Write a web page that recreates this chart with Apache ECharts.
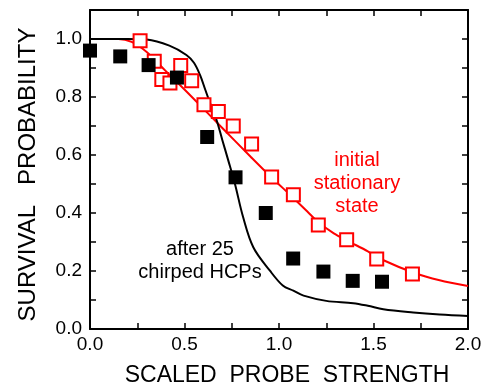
<!DOCTYPE html>
<html>
<head>
<meta charset="utf-8">
<script src="https://cdn.jsdelivr.net/npm/echarts@6/dist/echarts.min.js"></script>
<style>
  html, body { margin: 0; padding: 0; background: #fff; }
  #chart { width: 482px; height: 387px; }
</style>
</head>
<body>
<div id="chart"></div>
<script>
const chirpedX = [0.0, 0.16, 0.31, 0.46, 0.62, 0.77, 0.93, 1.075, 1.235, 1.39, 1.545];
const chirpedY = [0.96, 0.94, 0.91, 0.867, 0.662, 0.523, 0.40, 0.243, 0.198, 0.166, 0.163];

const initialX = [0.265, 0.34, 0.38, 0.423, 0.48, 0.538, 0.603, 0.679, 0.758, 0.855, 0.961, 1.076, 1.208, 1.358, 1.517, 1.706];
const initialY = [0.994, 0.923, 0.86, 0.848, 0.909, 0.856, 0.773, 0.75, 0.70, 0.638, 0.524, 0.463, 0.359, 0.308, 0.241, 0.19];

// Theory curves
const chirpedCurveX = [0, 0.2, 0.3, 0.42, 0.51, 0.55, 0.582, 0.61, 0.64, 0.67, 0.70, 0.73, 0.767, 0.81, 0.864, 0.952, 1.02, 1.076, 1.13, 1.25, 1.393, 1.47, 1.552, 1.71, 1.85, 2.0];
const chirpedCurveY = [1.0, 1.0, 0.998, 0.977, 0.945, 0.918, 0.876, 0.825, 0.77, 0.72, 0.652, 0.585, 0.50, 0.386, 0.282, 0.201, 0.15, 0.132, 0.115, 0.097, 0.089, 0.08, 0.068, 0.057, 0.05, 0.045];

const initialCurveX = [0, 0.15, 0.22, 0.3, 0.4, 0.53, 0.7, 0.85, 0.955, 1.076, 1.15, 1.208, 1.29, 1.36, 1.47, 1.55, 1.71, 1.85, 2.0];
const initialCurveY = [1.0, 1.0, 0.99, 0.955, 0.89, 0.806, 0.693, 0.594, 0.526, 0.452, 0.405, 0.368, 0.33, 0.305, 0.268, 0.238, 0.195, 0.168, 0.148];

const xTicks = { min: 0, max: 2, step: 0.25 };
const yTicks = { min: 0, max: 1.1, step: 0.1 };

const RED = "#ff0000";
const FONT = "Liberation Sans, Arial, sans-serif";

const zip = (xs, ys) => xs.map((x, i) => [x, ys[i]]);

// labels only on every 0.5 (x) / 0.2 (y)
const xLabel = (v) => (Math.round(v * 100) % 50 === 0 ? v.toFixed(1) : "");
const yLabel = (v) => (Math.round(v * 10) % 2 === 0 && v <= 1.0001 ? v.toFixed(1) : "");

const axisLine = { show: true, onZero: false, lineStyle: { color: "#000", width: 2 } };
const axisTick = { show: true, inside: true, length: 6, lineStyle: { color: "#000", width: 1.5 } };

const chart = echarts.init(document.getElementById("chart"), null, { renderer: "canvas" });

chart.setOption({
  animation: false,
  // fixed plot box; don't let v6 shrink it to fit the axis names
  grid: { left: 90, right: 14, top: 10, bottom: 58, containLabel: false, outerBoundsMode: "none" },
  xAxis: [
    {
      type: "value", min: xTicks.min, max: xTicks.max, interval: xTicks.step,
      axisLine, axisTick, splitLine: { show: false },
      axisLabel: { formatter: xLabel, color: "#000", fontSize: 19, fontFamily: FONT, margin: 6, showMaxLabel: true },
      name: "SCALED  PROBE  STRENGTH",
      nameLocation: "middle", nameGap: 35,
      nameTextStyle: { color: "#000", fontSize: 23, fontFamily: FONT, padding: [0, 0, 0, 16] },
    },
    {
      type: "value", position: "top", min: xTicks.min, max: xTicks.max, interval: xTicks.step,
      axisLine, axisTick, axisLabel: { show: false }, splitLine: { show: false },
    },
  ],
  yAxis: [
    {
      type: "value", min: yTicks.min, max: yTicks.max, interval: yTicks.step,
      axisLine, axisTick, splitLine: { show: false },
      axisLabel: { formatter: yLabel, color: "#000", fontSize: 19, fontFamily: FONT, margin: 8, showMaxLabel: false },
      name: "SURVIVAL   PROBABILITY",
      nameLocation: "middle", nameGap: 50,
      nameTextStyle: { color: "#000", fontSize: 24, fontFamily: FONT, padding: [0, 10, 0, 0] },
    },
    {
      type: "value", position: "right", min: yTicks.min, max: yTicks.max, interval: yTicks.step,
      axisLine, axisTick, axisLabel: { show: false }, splitLine: { show: false },
    },
  ],
  series: [
    {
      name: "initial curve", type: "line", smooth: 0.3, symbol: "none", z: 2,
      lineStyle: { color: RED, width: 2 },
      data: zip(initialCurveX, initialCurveY),
    },
    {
      name: "chirped curve", type: "line", smooth: 0.35, symbol: "none", z: 2,
      lineStyle: { color: "#000", width: 2 },
      data: zip(chirpedCurveX, chirpedCurveY),
    },
    {
      name: "initial stationary state", type: "scatter", symbol: "rect", symbolSize: 13, z: 3,
      itemStyle: { color: "#fff", borderColor: RED, borderWidth: 2, opacity: 1 },
      data: zip(initialX, initialY),
    },
    {
      name: "after 25 chirped HCPs", type: "scatter", symbol: "rect", symbolSize: 14, z: 4,
      itemStyle: { color: "#000", opacity: 1 },
      data: zip(chirpedX, chirpedY),
    },
  ],
  graphic: [
    {
      type: "text", x: 357, y: 183,
      style: {
        text: "initial\nstationary\nstate", fill: RED, font: `20px ${FONT}`,
        align: "center", verticalAlign: "middle", lineHeight: 23,
      },
    },
    {
      type: "text", x: 200, y: 261,
      style: {
        text: "after 25\nchirped HCPs", fill: "#000", font: `20px ${FONT}`,
        align: "center", verticalAlign: "middle", lineHeight: 23,
      },
    },
  ],
});
</script>
</body>
</html>
